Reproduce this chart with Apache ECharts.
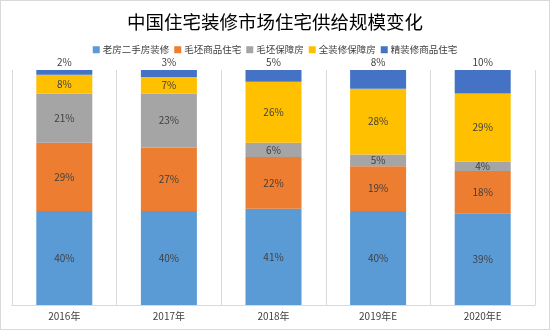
<!DOCTYPE html>
<html><head><meta charset="utf-8">
<script src="https://cdn.jsdelivr.net/npm/echarts@6/dist/echarts.min.js"></script>
<style>
html,body{margin:0;padding:0;background:#fff;}
#wrap{position:relative;width:550px;height:330px;}
#c{width:550px;height:330px;}
#frame{position:absolute;left:0;top:0;width:548px;height:328px;border:1px solid #d9d9d9;pointer-events:none;}
</style></head>
<body><div id="wrap"><div id="c"></div><div id="frame"></div></div>
<script>
const categories = ['2016年','2017年','2018年','2019年E','2020年E'];
const seriesNames = ['老房二手房装修','毛坯商品住宅','毛坯保障房','全装修保障房','精装修商品住宅'];
const oldHouse = [40,40,41,40,39];
const roughCommercial = [29,27,22,19,18];
const roughAffordable = [21,23,6,5,4];
const finishedAffordable = [8,7,26,28,29];
const finishedCommercial = [2,3,5,8,10];
const colors = ['#5B9BD5','#ED7D31','#A5A5A5','#FFC000','#4472C4'];
const values = [oldHouse, roughCommercial, roughAffordable, finishedAffordable, finishedCommercial];

const chart = echarts.init(document.getElementById('c'));
const font = '"Noto Sans CJK SC", "Noto Sans", sans-serif';
chart.setOption({
  animation:false,
  textStyle:{fontFamily:font},
  title:{text:'中国住宅装修市场住宅供给规模变化',left:'center',top:8,
    textStyle:{fontFamily:font,fontSize:18.5,fontWeight:'normal',color:'#000'}},
  legend:{top:40,left:'center',itemWidth:7,itemHeight:7,itemGap:5,
    icon:'rect',textStyle:{fontFamily:font,fontSize:9.5,color:'#404040',padding:[0,0,0,-2]},
    data:seriesNames},
  grid:{left:12,right:15,top:70,bottom:25},
  xAxis:{type:'category',data:categories,
    axisLine:{lineStyle:{color:'#d9d9d9'}},axisTick:{show:false},
    axisLabel:{fontFamily:font,fontSize:10,color:'#404040',margin:6},
    splitLine:{show:true,lineStyle:{color:'#d9d9d9'}}},
  yAxis:{type:'value',min:0,max:100,show:false},
  series: seriesNames.map((n,i)=>({
    name:n,type:'bar',stack:'s',barWidth:56,data:values[i],
    itemStyle:{color:colors[i]},
    label:{show:true,position:i===4?'top':'inside',distance:3,formatter:'{c}%',
      fontFamily:font,fontSize:10,color:'#404040'}
  }))
});
</script></body></html>
